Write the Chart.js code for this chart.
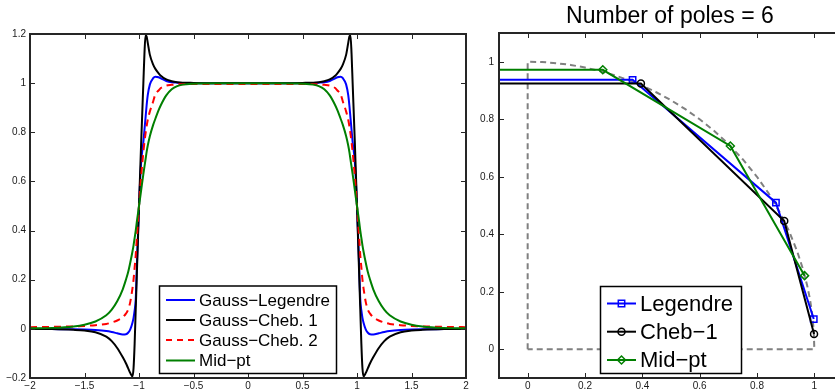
<!DOCTYPE html>
<html><head><meta charset="utf-8">
<script src="https://cdn.jsdelivr.net/npm/chart.js@4.4.0/dist/chart.umd.min.js"></script>
<style>
html,body{margin:0;padding:0;width:835px;height:391px;overflow:hidden;background:#fff;}
#a{position:absolute;left:0;top:0;}
#b{position:absolute;left:470px;top:0;}
</style></head><body>
<canvas id="a" width="480" height="391"></canvas>
<canvas id="b" width="380" height="391"></canvas>
<script>
// ---------- Left panel data ----------
const leftX = [-2,-1.8,-1.6,-1.5,-1.4,-1.3,-1.25,-1.2,-1.15,-1.12,-1.1,-1.08,-1.06,-1.05,-1.04,-1.03,-1.02,-1,-0.98,-0.96,-0.95,-0.94,-0.93,-0.92,-0.9,-0.87,-0.85,-0.82,-0.8,-0.75,-0.7,-0.65,-0.6,-0.5,-0.3,0,0.3,0.5,0.6,0.65,0.7,0.75,0.8,0.82,0.85,0.87,0.9,0.92,0.93,0.94,0.95,0.96,0.98,1,1.02,1.03,1.04,1.05,1.06,1.08,1.1,1.12,1.15,1.2,1.25,1.3,1.4,1.5,1.6,1.8,2];
const gaussLegendre = [0,-0.001,-0.002,-0.003,-0.005,-0.009,-0.013,-0.018,-0.023,-0.022,-0.016,-0.002,0.025,0.045,0.075,0.12,0.25,0.5,0.68,0.76,0.81,0.86,0.91,0.95,0.995,1.02,1.026,1.024,1.019,1.009,1.004,1.002,1.001,1.0,1.0,1.0,1.0,1.0,1.001,1.002,1.004,1.009,1.019,1.024,1.026,1.02,0.995,0.95,0.91,0.86,0.81,0.76,0.68,0.5,0.25,0.12,0.075,0.045,0.025,-0.002,-0.016,-0.022,-0.023,-0.018,-0.013,-0.009,-0.005,-0.003,-0.002,-0.001,0];
const gaussCheb1 = [0,-0.001,-0.004,-0.007,-0.014,-0.032,-0.05,-0.078,-0.115,-0.14,-0.16,-0.18,-0.193,-0.16,-0.06,0.08,0.22,0.5,0.76,1.0,1.12,1.195,1.19,1.165,1.115,1.075,1.058,1.04,1.03,1.015,1.008,1.004,1.002,1.001,1.0,1.0,1.0,1.001,1.002,1.004,1.008,1.015,1.03,1.04,1.058,1.075,1.115,1.165,1.19,1.195,1.12,1.0,0.76,0.5,0.22,0.08,-0.06,-0.16,-0.193,-0.18,-0.16,-0.14,-0.115,-0.078,-0.05,-0.032,-0.014,-0.007,-0.004,-0.001,0];
const gaussCheb2 = [0.007,0.008,0.01,0.012,0.015,0.02,0.026,0.034,0.047,0.062,0.078,0.11,0.165,0.2,0.25,0.3,0.37,0.5,0.62,0.72,0.76,0.795,0.825,0.85,0.885,0.925,0.955,0.97,0.98,0.99,0.993,0.995,0.996,0.997,0.997,0.997,0.997,0.997,0.996,0.995,0.993,0.99,0.98,0.97,0.955,0.925,0.885,0.85,0.825,0.795,0.76,0.72,0.62,0.5,0.37,0.3,0.25,0.2,0.165,0.11,0.078,0.062,0.047,0.034,0.026,0.02,0.015,0.012,0.01,0.008,0.007];
const midPoint = [0.002,0.004,0.01,0.017,0.03,0.055,0.078,0.112,0.16,0.2,0.23,0.27,0.315,0.34,0.37,0.4,0.435,0.5,0.565,0.63,0.66,0.69,0.72,0.745,0.785,0.83,0.855,0.89,0.91,0.95,0.975,0.988,0.994,0.998,1.0,1.0,1.0,0.998,0.994,0.988,0.975,0.95,0.91,0.89,0.855,0.83,0.785,0.745,0.72,0.69,0.66,0.63,0.565,0.5,0.435,0.4,0.37,0.34,0.315,0.27,0.23,0.2,0.16,0.112,0.078,0.055,0.03,0.017,0.01,0.004,0.002];
const leftSeriesNames = ['Gauss\u2212Legendre','Gauss\u2212Cheb. 1','Gauss\u2212Cheb. 2','Mid\u2212pt'];
const leftXTicks = [-2,-1.5,-1,-0.5,0,0.5,1,1.5,2];
const leftXTickLabels = ['\u22122','\u22121.5','\u22121','\u22120.5','0','0.5','1','1.5','2'];
const leftYTicks = [-0.2,0,0.2,0.4,0.6,0.8,1,1.2];
const leftYTickLabels = ['\u22120.2','0','0.2','0.4','0.6','0.8','1','1.2'];

// ---------- Right panel data ----------
const titleText = 'Number of poles = 6';
const legendreX = [-0.2,0.366,0.866,0.998];
const legendreY = [0.937,0.937,0.51,0.105];
const cheb1X = [-0.2,0.395,0.895,0.999];
const cheb1Y = [0.924,0.924,0.446,0.053];
const midX = [-0.2,0.262,0.707,0.966];
const midY = [0.972,0.972,0.707,0.256];
const contourX = [0,0,0.05,0.1,0.15,0.2,0.25,0.3,0.35,0.4,0.45,0.5,0.55,0.6,0.65,0.7,0.75,0.8,0.84,0.88,0.91,0.94,0.96,0.975,0.985,0.993,0.998,1,0];
const contourY = [0,1,0.999,0.995,0.989,0.98,0.968,0.954,0.937,0.917,0.893,0.866,0.835,0.8,0.76,0.714,0.661,0.6,0.543,0.475,0.415,0.341,0.28,0.222,0.173,0.118,0.063,0,0];
const rightSeriesNames = ['Legendre','Cheb\u22121','Mid\u2212pt'];
const rightTicks = [0,0.2,0.4,0.6,0.8,1];
const rightTickLabels = ['0','0.2','0.4','0.6','0.8','1'];

// ---------- helpers ----------
const FONT = "'Liberation Sans', Arial, Helvetica, sans-serif";
const BLUE='#0000ff', BLACK='#000000', RED='#ff0000', GREEN='#007f00', GRAY='#808080';
const pts = (xs, ys) => xs.map((x,i)=>({x, y: ys[i]}));

function axis(min, max, vals, labels, isY, size, pad){
  return {
    type:'linear', min, max,
    afterBuildTicks: s => { s.ticks = vals.map(v=>({value:v})); },
    afterFit: s => { if (isY) s.width = size; else s.height = size; },
    ticks:{autoSkip:false, maxRotation:0, minRotation:0, padding:pad, color:'#1a1a1a',
      font:{family:FONT, size:10}, callback:(v,i)=>labels[i]},
    grid:{display:false, drawTicks:false},
    border:{display:false}
  };
}

function drawMarker(ctx, type, x, y, color){
  ctx.save();
  ctx.strokeStyle = color; ctx.lineWidth = 1.5; ctx.setLineDash([]);
  ctx.beginPath();
  if (type==='rect'){ ctx.rect(x-3.2, y-3.2, 6.4, 6.4); }
  else if (type==='circle'){ ctx.arc(x, y, 3.5, 0, Math.PI*2); }
  else if (type==='rectRot'){ ctx.moveTo(x, y-4); ctx.lineTo(x+4, y); ctx.lineTo(x, y+4); ctx.lineTo(x-4, y); ctx.closePath(); }
  ctx.stroke();
  ctx.restore();
}

const framePlugin = {
  id:'frame',
  afterDatasetsDraw(chart, args, opts){
    const {ctx, chartArea:a, scales:{x, y}} = chart;
    ctx.save();
    ctx.strokeStyle = '#262626'; ctx.lineWidth = 1; ctx.setLineDash([]);
    const L = 5;
    ctx.beginPath();
    x.ticks.forEach(t=>{ const p = Math.round(x.getPixelForValue(t.value))+0.5;
      ctx.moveTo(p, a.bottom); ctx.lineTo(p, a.bottom-L); ctx.moveTo(p, a.top); ctx.lineTo(p, a.top+L); });
    y.ticks.forEach(t=>{ const p = Math.round(y.getPixelForValue(t.value))+0.5;
      ctx.moveTo(a.left, p); ctx.lineTo(a.left+L, p); ctx.moveTo(a.right, p); ctx.lineTo(a.right-L, p); });
    ctx.stroke();
    ctx.lineWidth = 2;
    ctx.strokeRect(a.left, a.top, a.right-a.left, a.bottom-a.top);
    // legend
    const lg = opts.legend;
    if (lg){
      ctx.fillStyle = '#fff';
      ctx.fillRect(lg.x0, lg.y0, lg.x1-lg.x0, lg.y1-lg.y0);
      ctx.strokeStyle = '#000'; ctx.lineWidth = 1.5;
      ctx.strokeRect(lg.x0, lg.y0, lg.x1-lg.x0, lg.y1-lg.y0);
      ctx.font = lg.fontSize + 'px ' + FONT;
      ctx.textBaseline = 'middle'; ctx.textAlign = 'left';
      lg.items.forEach((it, i)=>{
        const yy = lg.rows[i];
        ctx.strokeStyle = it.color; ctx.lineWidth = 2;
        ctx.setLineDash(it.dash || []);
        ctx.beginPath(); ctx.moveTo(lg.s0, yy); ctx.lineTo(lg.s1, yy); ctx.stroke();
        ctx.setLineDash([]);
        if (it.marker) drawMarker(ctx, it.marker, (lg.s0+lg.s1)/2, yy, it.color);
        ctx.fillStyle = '#000';
        ctx.fillText(it.label, lg.tx, yy+1);
      });
    }
    if (opts.title){
      ctx.font = opts.title.size + 'px ' + FONT;
      ctx.fillStyle = '#000'; ctx.textAlign = 'center'; ctx.textBaseline = 'middle';
      ctx.fillText(opts.title.text, opts.title.x, opts.title.y);
    }
    ctx.restore();
  }
};

// ---------- Left chart ----------
const leftLine = (label, ys, color, order, dash) => ({
  label, data: pts(leftX, ys), borderColor: color, borderWidth: 2, pointRadius: 0,
  cubicInterpolationMode: 'monotone', fill: false, order, borderDash: dash || []
});

new Chart(document.getElementById('a'), {
  type: 'line',
  data: { datasets: [
    leftLine(leftSeriesNames[0], gaussLegendre, BLUE, 3),
    leftLine(leftSeriesNames[1], gaussCheb1, BLACK, 2),
    leftLine(leftSeriesNames[2], gaussCheb2, RED, 1, [7,5]),
    leftLine(leftSeriesNames[3], midPoint, GREEN, 0)
  ]},
  options: {
    responsive: false, animation: false, events: [], devicePixelRatio: 1,
    layout: { padding: { top: 34, right: 14, left: 0, bottom: 0 } },
    scales: {
      x: axis(-2, 2, leftXTicks, leftXTickLabels, false, 13, 2),
      y: axis(-0.2, 1.2, leftYTicks, leftYTickLabels, true, 30, 4)
    },
    plugins: {
      legend: { display: false }, tooltip: { enabled: false },
      frame: { legend: {
        x0: 159.5, y0: 286, x1: 336.5, y1: 373.5, s0: 166, s1: 195, tx: 199, fontSize: 17,
        rows: [300, 320, 340, 360.5],
        items: [
          {label: leftSeriesNames[0], color: BLUE},
          {label: leftSeriesNames[1], color: BLACK},
          {label: leftSeriesNames[2], color: RED, dash: [6,5]},
          {label: leftSeriesNames[3], color: GREEN}
        ]
      }}
    }
  },
  plugins: [framePlugin]
});

// ---------- Right chart ----------
const rightLine = (label, xs, ys, color, order, style, r) => ({
  label, data: pts(xs, ys), borderColor: color, borderWidth: 2,
  pointRadius: xs.map((_, i) => i === 0 ? 0 : r), pointStyle: style,
  pointBorderColor: color, pointBackgroundColor: 'rgba(0,0,0,0)', pointBorderWidth: 1.5,
  tension: 0, fill: false, order
});

new Chart(document.getElementById('b'), {
  type: 'line',
  data: { datasets: [
    { label: 'contour', data: pts(contourX, contourY), borderColor: GRAY, borderWidth: 2,
      borderDash: [6,4], pointRadius: 0, tension: 0, fill: false, order: 10 },
    rightLine(rightSeriesNames[0], legendreX, legendreY, BLUE, 3, 'rect', 4.5),
    rightLine(rightSeriesNames[1], cheb1X, cheb1Y, BLACK, 2, 'circle', 3.5),
    rightLine(rightSeriesNames[2], midX, midY, GREEN, 1, 'rectRot', 4)
  ]},
  options: {
    responsive: false, animation: false, events: [], devicePixelRatio: 1,
    layout: { padding: { top: 33, right: 7, left: 0, bottom: 0 } },
    scales: {
      x: axis(-0.1, 1.1, rightTicks, rightTickLabels, false, 13, 2),
      y: axis(-0.1, 1.1, rightTicks, rightTickLabels, true, 29, 5)
    },
    plugins: {
      legend: { display: false }, tooltip: { enabled: false },
      frame: {
        title: { text: titleText, size: 23, x: 200, y: 16.5 },
        legend: {
          x0: 130.5, y0: 286.5, x1: 271.5, y1: 373.5, s0: 137, s1: 166, tx: 170, fontSize: 22,
          rows: [303.5, 331.7, 360],
          items: [
            {label: rightSeriesNames[0], color: BLUE, marker: 'rect'},
            {label: rightSeriesNames[1], color: BLACK, marker: 'circle'},
            {label: rightSeriesNames[2], color: GREEN, marker: 'rectRot'}
          ]
        }
      }
    }
  },
  plugins: [framePlugin]
});
</script>
</body></html>
